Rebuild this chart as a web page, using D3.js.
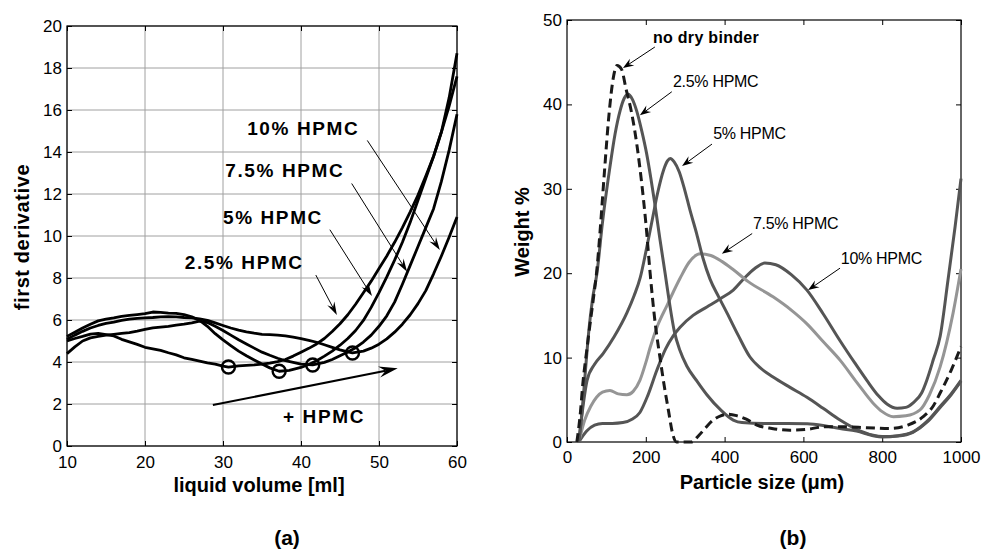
<!DOCTYPE html>
<html>
<head>
<meta charset="utf-8">
<title>HPMC granulation</title>
<script src="https://d3js.org/d3.v7.min.js"></script>
<style>
body { margin: 0; background: #fff; }
text { font-family: "Liberation Sans", Arial, sans-serif; }
</style>
</head>
<body>
<div id="chart"></div>
<script>
// ---- panel (a): first derivative vs liquid volume ----
var xTicksA = [10, 20, 30, 40, 50, 60];
var yTicksA = [0, 2, 4, 6, 8, 10, 12, 14, 16, 18, 20];

var deriv25 = [[10,5.0],[11,5.12],[12,5.22],[13,5.33],[14,5.36],[15,5.3],[16,5.24],[17,5.08],[18,4.96],[19,4.84],[20,4.7],[21,4.63],[22,4.55],[23,4.44],[24,4.34],[25,4.2],[26,4.12],[27,4.04],[28,3.96],[29,3.9],[30,3.8],[30.7,3.76],[32,3.82],[33,3.84],[34,3.86],[35,3.9],[36,3.95],[37,4.02],[38,4.12],[39,4.28],[40,4.47],[41,4.65],[42,4.86],[43,5.12],[44,5.45],[45,5.82],[46,6.25],[47,6.75],[48,7.3],[49,7.85],[50,8.45],[51,9.05],[52,9.7],[53,10.4],[54,11.15],[55,11.95],[56,12.85],[57,13.8],[58,14.95],[59,16.6],[60,18.7]];
var deriv5 = [[10,5.22],[11,5.42],[12,5.62],[13,5.8],[14,5.96],[15,6.04],[16,6.1],[17,6.17],[18,6.22],[19,6.26],[20,6.3],[21,6.38],[22,6.36],[23,6.33],[24,6.32],[25,6.26],[26,6.15],[27,5.98],[28,5.7],[29,5.35],[30,5.05],[31,4.78],[32,4.52],[33,4.3],[34,4.1],[35,3.9],[36,3.72],[37.2,3.56],[38.5,3.6],[40,3.74],[41,3.88],[42,4.06],[43,4.28],[44,4.52],[45,4.8],[46,5.12],[47,5.5],[48,5.98],[49,6.6],[50,7.3],[51,8.05],[52,8.85],[53,9.7],[54,10.65],[55,11.7],[56,12.75],[57,13.8],[58,14.95],[59,16.2],[60,17.6]];
var deriv75 = [[10,4.4],[11,4.72],[12,5.0],[13,5.15],[14,5.22],[15,5.28],[16,5.32],[17,5.36],[18,5.4],[19,5.47],[20,5.55],[21,5.62],[22,5.66],[23,5.7],[24,5.76],[25,5.8],[26,5.86],[27,5.95],[28,5.88],[29,5.7],[30,5.5],[31,5.28],[32,5.06],[33,4.86],[34,4.66],[35,4.47],[36,4.32],[37,4.18],[38,4.06],[39,3.98],[40,3.9],[41.5,3.86],[43,3.98],[44,4.12],[45,4.3],[46,4.48],[47,4.68],[48,4.95],[49,5.28],[50,5.7],[51,6.2],[52,6.85],[53,7.7],[54,8.6],[55,9.5],[56,10.4],[57,11.3],[58,12.6],[59,14.1],[60,15.8]];
var deriv10 = [[10,5.08],[11,5.28],[12,5.46],[13,5.62],[14,5.74],[15,5.84],[16,5.9],[17,5.98],[18,6.04],[19,6.08],[20,6.1],[21,6.12],[22,6.15],[23,6.16],[24,6.15],[25,6.12],[26,6.1],[27,6.05],[28,5.98],[29,5.86],[30,5.74],[31,5.62],[32,5.52],[33,5.44],[34,5.37],[35,5.32],[36,5.3],[37,5.28],[38,5.24],[39,5.18],[40,5.11],[41,5.03],[42,4.94],[43,4.82],[44,4.7],[45,4.58],[46,4.48],[46.6,4.43],[48,4.52],[49,4.66],[50,4.85],[51,5.1],[52,5.42],[53,5.8],[54,6.25],[55,6.78],[56,7.4],[57,8.2],[58,9.05],[59,9.95],[60,10.9]];
var minima = [[30.7,3.76],[37.2,3.56],[41.5,3.86],[46.6,4.43]];

// label text, label anchor, arrow start, arrow tip (data units)
var labelsA = [
  { text: "10% HPMC",  at: [33.1,14.8], from: [48.5,14.55], to: [57.8,9.33] },
  { text: "7.5% HPMC", at: [30.3,12.8], from: [46.5,12.5],  to: [53.6,8.3] },
  { text: "5% HPMC",   at: [30.0,10.57], from: [43.7,10.3], to: [49.1,7.14] },
  { text: "2.5% HPMC", at: [25.1,8.43], from: [41.9,8.14],  to: [44.6,6.24] }
];

// ---- panel (b): particle size distribution ----
var xTicksB = [0, 200, 400, 600, 800, 1000];
var yTicksB = [0, 10, 20, 30, 40, 50];

var psdNone = [[25,0],[33,3],[41,7.3],[50,10.8],[58,13.8],[67,17],[76,20.5],[84,25],[95,32],[106,38.5],[117,43],[127,44.6],[138,44.2],[150,41.8],[164,39],[178,35],[190,30.5],[200,26],[211,20],[224,14],[236,10],[248,6.3],[258,3.6],[268,1],[278,0],[315,0],[335,0.8],[352,1.7],[371,2.6],[390,3.1],[410,3.3],[432,3.1],[455,2.7],[482,2.0],[520,1.6],[566,1.4],[610,1.5],[650,1.8],[700,1.8],[760,1.7],[820,1.6],[865,2.0],[904,3.0],[930,4.3],[947,5.8],[975,8.5],[1000,11.3]];
var psd25 = [[30,0],[38,3.5],[46,8],[55,13],[65,17],[76,20],[90,26],[109,32.6],[122,36.5],[135,39.3],[145,40.7],[155,41.2],[166,40.6],[177,39.2],[190,36.8],[202,34.2],[213,31.2],[223,28.2],[236,24],[249,20],[260,16.5],[272,13.2],[287,10.8],[304,9],[330,7.2],[355,5.6],[390,3.8],[422,2.6],[444,2.3],[500,2.2],[560,2.2],[610,2.15],[650,1.95],[693,1.6],[735,1.3],[777,0.75],[800,0.6],[840,0.7],[878,1.15],[915,2.4],[947,4.1],[975,5.6],[1000,7.2]];
var psd5 = [[30,0],[40,4],[51,7.3],[70,9.2],[92,10.5],[120,12.5],[152,15.3],[170,17.3],[186,19.5],[200,22.5],[215,26],[230,29.5],[245,32.2],[255,33.3],[262,33.6],[272,33.2],[285,32],[298,30],[312,27.5],[329,24.7],[345,21.8],[363,19.3],[385,17.2],[406,15.3],[435,12.6],[464,10.1],[490,8.8],[523,7.7],[565,6.5],[609,5.3],[650,4],[693,2.6],[735,1.5],[777,0.8],[800,0.65],[840,0.75],[878,1.2],[915,2.5],[947,4.2],[975,5.7],[1000,7.3]];
var psd75 = [[30,0],[45,2.6],[60,4.2],[75,5.3],[90,5.9],[109,6.1],[130,5.7],[152,5.6],[168,6],[185,7.3],[200,9.4],[211,11.2],[230,13.8],[254,16.2],[270,17.8],[287,19.4],[310,21.3],[338,22.3],[365,22.1],[393,21.4],[420,20.5],[460,19],[523,17.2],[570,15.6],[609,14],[650,11.9],[693,9.7],[735,7.1],[777,4.6],[800,3.6],[828,3],[860,3.1],[896,3.8],[920,5.6],[947,8.9],[980,15.3],[1000,20.5]];
var psd10 = [[30,0],[50,1.3],[70,2],[90,2.2],[115,2.2],[142,2.3],[165,2.7],[185,3.5],[205,5.5],[228,8.5],[250,11],[270,12.6],[287,13.6],[320,15],[355,16],[390,17],[422,18],[450,19.4],[475,20.5],[502,21.2],[530,21],[570,19.8],[609,18],[650,15.2],[693,12],[730,9.4],[761,7.3],[790,5.5],[812,4.5],[838,4],[860,4.1],[880,4.7],[900,5.8],[913,7.3],[930,9.8],[947,12.5],[967,19.2],[985,25.5],[1000,31.2]];

var labelsB = [
  { text: "no dry binder", bold: true, at: [218,47.3], from: [223,46.8], to: [142,44.3] },
  { text: "2.5% HPMC", at: [269,42.1], from: [266,41.5], to: [185,38.7] },
  { text: "5% HPMC",   at: [371,35.9], from: [368,35.3], to: [292,32.7] },
  { text: "7.5% HPMC", at: [472,25.2], from: [470,24.7], to: [393,22.3] },
  { text: "10% HPMC",  at: [695,21.1], from: [693,20.6], to: [612,18] }
];

var width = 984, height = 552;
var svg = d3.select("#chart").append("svg")
    .attr("width", width)
    .attr("height", height);
svg.append("rect").attr("width", width).attr("height", height).attr("fill", "#fff");

// arrow with a notched, filled head
function arrow(g, p1, p2, len, wid, sw) {
    var dx = p2[0] - p1[0], dy = p2[1] - p1[1];
    var L = Math.sqrt(dx * dx + dy * dy);
    var ux = dx / L, uy = dy / L, nx = -uy, ny = ux;
    var bx = p2[0] - ux * len, by = p2[1] - uy * len;
    var kx = p2[0] - ux * len * 0.65, ky = p2[1] - uy * len * 0.65;
    g.append("line")
        .attr("x1", p1[0]).attr("y1", p1[1]).attr("x2", kx).attr("y2", ky)
        .attr("stroke", "#000").attr("stroke-width", sw);
    g.append("path")
        .attr("d", "M" + p2[0] + "," + p2[1] +
            "L" + (bx + nx * wid / 2) + "," + (by + ny * wid / 2) +
            "L" + kx + "," + ky +
            "L" + (bx - nx * wid / 2) + "," + (by - ny * wid / 2) + "Z")
        .attr("fill", "#000");
}

// box with inward ticks on all four sides
function frame(g, x, y, xt, yt, labelPad, fontSize) {
    var x0 = x.range()[0], x1 = x.range()[1], y0 = y.range()[0], y1 = y.range()[1];
    g.append("g").attr("transform", "translate(0," + y0 + ")")
        .call(d3.axisBottom(x).tickValues(xt).tickFormat(d3.format("d"))
            .tickSizeInner(-5).tickSizeOuter(0).tickPadding(labelPad));
    g.append("g").attr("transform", "translate(" + x0 + ",0)")
        .call(d3.axisLeft(y).tickValues(yt).tickFormat(d3.format("d"))
            .tickSizeInner(-5).tickSizeOuter(0).tickPadding(5));
    g.append("g").attr("transform", "translate(0," + y1 + ")")
        .call(d3.axisTop(x).tickValues(xt).tickSizeInner(-5).tickSizeOuter(0).tickFormat(""));
    g.append("g").attr("transform", "translate(" + x1 + ",0)")
        .call(d3.axisRight(y).tickValues(yt).tickSizeInner(-5).tickSizeOuter(0).tickFormat(""));
    g.selectAll(".domain").remove();
    g.selectAll(".tick line").attr("stroke", "#000");
    g.selectAll(".tick text")
        .attr("font-family", "Liberation Sans, Arial, sans-serif")
        .attr("font-size", fontSize).attr("fill", "#000");
    g.append("rect")
        .attr("x", x0).attr("y", y1).attr("width", x1 - x0).attr("height", y0 - y1)
        .attr("fill", "none").attr("stroke", "#000").attr("stroke-width", 1.2);
}

// ===== panel (a) =====
var xa = d3.scaleLinear().domain([10, 60]).range([67, 457]);
var ya = d3.scaleLinear().domain([0, 20]).range([446, 26]);
var ga = svg.append("g");

ga.selectAll(".vgrid").data(xTicksA).enter().append("line")
    .attr("x1", function(d) { return xa(d); }).attr("x2", function(d) { return xa(d); })
    .attr("y1", ya(0)).attr("y2", ya(20))
    .attr("stroke", "#a0a0a0").attr("stroke-width", 1);
ga.selectAll(".hgrid").data(yTicksA).enter().append("line")
    .attr("x1", xa(10)).attr("x2", xa(60))
    .attr("y1", function(d) { return ya(d); }).attr("y2", function(d) { return ya(d); })
    .attr("stroke", "#a0a0a0").attr("stroke-width", 1);

frame(ga, xa, ya, xTicksA, yTicksA, 10, 17);

var lineA = d3.line()
    .x(function(d) { return xa(d[0]); })
    .y(function(d) { return ya(d[1]); });

[deriv25, deriv5, deriv75, deriv10].forEach(function(s) {
    ga.append("path").datum(s)
        .attr("d", lineA)
        .attr("fill", "none").attr("stroke", "#000")
        .attr("stroke-width", 2.8).attr("stroke-linejoin", "round");
});

ga.selectAll(".min").data(minima).enter().append("circle")
    .attr("cx", function(d) { return xa(d[0]); })
    .attr("cy", function(d) { return ya(d[1]); })
    .attr("r", 6.5)
    .attr("fill", "none").attr("stroke", "#000").attr("stroke-width", 2.4);

labelsA.forEach(function(l) {
    ga.append("text")
        .attr("x", xa(l.at[0])).attr("y", ya(l.at[1]))
        .attr("font-size", 19).attr("font-weight", "bold")
        .attr("letter-spacing", 1.6)
        .text(l.text);
    arrow(ga, [xa(l.from[0]), ya(l.from[1])], [xa(l.to[0]), ya(l.to[1])], 13, 8, 1);
});

arrow(ga, [xa(28.7), ya(1.95)], [xa(52.4), ya(3.7)], 19, 11, 2);
ga.append("text")
    .attr("x", xa(37.7)).attr("y", ya(1.1))
    .attr("font-size", 19).attr("font-weight", "bold").attr("letter-spacing", 1.6)
    .text("+ HPMC");

ga.append("text")
    .attr("transform", "translate(29,237) rotate(-90)")
    .attr("text-anchor", "middle")
    .attr("font-size", 20).attr("font-weight", "bold").attr("letter-spacing", 0.6)
    .text("first derivative");
ga.append("text")
    .attr("x", 259).attr("y", 492)
    .attr("text-anchor", "middle")
    .attr("font-size", 20).attr("font-weight", "bold")
    .text("liquid volume [ml]");
ga.append("text")
    .attr("x", 287).attr("y", 545)
    .attr("text-anchor", "middle")
    .attr("font-family", "Liberation Serif, Times New Roman, serif")
    .attr("font-size", 21).attr("font-weight", "bold")
    .text("(a)");

// ===== panel (b) =====
var xb = d3.scaleLinear().domain([0, 1000]).range([567, 961]);
var yb = d3.scaleLinear().domain([0, 50]).range([442, 20]);
var gb = svg.append("g");

frame(gb, xb, yb, xTicksB, yTicksB, 9, 17);

var lineB = d3.line()
    .curve(d3.curveMonotoneX)
    .x(function(d) { return xb(d[0]); })
    .y(function(d) { return yb(d[1]); });

var seriesB = [
    { data: psd10, color: "#555555", dash: null },
    { data: psd75, color: "#959595", dash: null },
    { data: psd5,  color: "#555555", dash: null },
    { data: psd25, color: "#555555", dash: null },
    { data: psdNone, color: "#1a1a1a", dash: "9,5" }
];
seriesB.forEach(function(s) {
    gb.append("path").datum(s.data)
        .attr("d", lineB)
        .attr("fill", "none").attr("stroke", s.color)
        .attr("stroke-width", 3)
        .attr("stroke-dasharray", s.dash);
});

labelsB.forEach(function(l) {
    gb.append("text")
        .attr("x", xb(l.at[0])).attr("y", yb(l.at[1]))
        .attr("font-size", 16)
        .attr("font-weight", l.bold ? "bold" : "normal")
        .attr("letter-spacing", l.bold ? 0.3 : -0.3)
        .text(l.text);
    arrow(gb, [xb(l.from[0]), yb(l.from[1])], [xb(l.to[0]), yb(l.to[1])], 11, 8, 1);
});

gb.append("text")
    .attr("transform", "translate(529,232) rotate(-90)")
    .attr("text-anchor", "middle")
    .attr("font-size", 20).attr("font-weight", "bold")
    .text("Weight %");
gb.append("text")
    .attr("x", 762).attr("y", 489)
    .attr("text-anchor", "middle")
    .attr("font-size", 20).attr("font-weight", "bold")
    .text("Particle size (\u03bcm)");
gb.append("text")
    .attr("x", 793).attr("y", 545)
    .attr("text-anchor", "middle")
    .attr("font-family", "Liberation Serif, Times New Roman, serif")
    .attr("font-size", 21).attr("font-weight", "bold")
    .text("(b)");
</script>
</body>
</html>
